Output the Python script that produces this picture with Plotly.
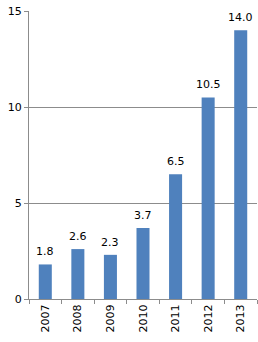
import plotly.graph_objects as go

years = ["2007", "2008", "2009", "2010", "2011", "2012", "2013"]
values = [1.8, 2.6, 2.3, 3.7, 6.5, 10.5, 14.0]
y_ticks = [0, 5, 10, 15]

fig = go.Figure(go.Bar(
    x=years, y=values,
    marker=dict(color="#4F81BD", line=dict(width=0)),
    cliponaxis=False,
))

for i, v in enumerate(values):
    fig.add_annotation(
        x=i, y=v, text=f"{v:.1f}", showarrow=False,
        yanchor="bottom", yshift=4,
        font=dict(family="DejaVu Sans", size=11, color="#000000"),
    )

fig.update_layout(
    width=258, height=342,
    margin=dict(l=29, r=1, t=11, b=43),
    paper_bgcolor="white", plot_bgcolor="white",
    bargap=0.6,
    showlegend=False,
    font=dict(family="DejaVu Sans", size=11, color="#000000"),
)
fig.update_yaxes(
    range=[0, 15], tickvals=y_ticks,
    showgrid=True, gridcolor="#8c8c8c", gridwidth=1,
    showline=True, linecolor="#8c8c8c", linewidth=1,
    ticks="outside", ticklen=4, tickcolor="#8c8c8c",
    zeroline=False,
    tickfont=dict(family="DejaVu Sans", size=11),
)
fig.update_xaxes(
    type="category", range=[-0.5, len(years) - 0.5],
    showline=True, linecolor="#8c8c8c", linewidth=1,
    ticks="outside", tickson="boundaries", ticklen=4, tickcolor="#8c8c8c",
    tickangle=-90,
    tickfont=dict(family="DejaVu Sans", size=11),
)

fig.write_html("out.html")
